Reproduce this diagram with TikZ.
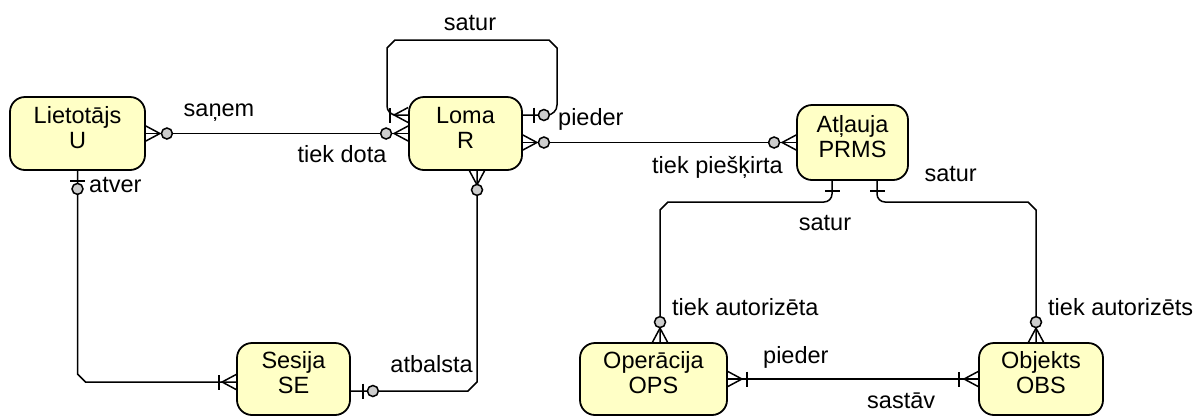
\documentclass[tikz,border=0pt]{standalone}
\usepackage{fontspec}
\setmainfont{Liberation Sans}
\usetikzlibrary{calc}
\definecolor{boxfill}{RGB}{255,255,198}
\definecolor{circfill}{RGB}{205,205,205}
\newcommand\ercrow[2]{\begin{scope}[shift={#1},rotate=#2]\draw[erl] (0,-7.5) -- (14,0) -- (0,7.5);\end{scope}}
\newcommand\erbar[3]{\begin{scope}[shift={#1},rotate=#2]\draw[erl] (#3,-7.5) -- (#3,7.5);\end{scope}}
\newcommand\ercirc[3]{\begin{scope}[shift={#1},rotate=#2]\draw[erl,fill=circfill] (#3,0) circle[radius=5.5];\end{scope}}
\newcommand\etext[2]{\raisebox{3pt}[\height][\depth]{\begin{tabular}{@{}c@{}}#1\\#2\end{tabular}}}
\begin{document}
\begin{tikzpicture}[x=1pt,y=-1pt,
  erl/.style={line width=1.5pt,black},
  ent/.style={draw,line width=1.8pt,fill=boxfill,rounded corners=15pt,inner sep=0pt,
    font=\fontsize{23.5}{25}\selectfont},
  lbl/.style={font=\fontsize{23.5}{25}\selectfont,inner sep=0pt}]
\useasboundingbox (0,0) rectangle (1198,416);
% entities
\node[ent,minimum width=135pt,minimum height=73pt] (lie) at (77.5,133.5) {\etext{Lietotājs}{U}};
\node[ent,minimum width=113pt,minimum height=73pt] (loma) at (465.5,133.5) {\etext{Loma}{R}};
\node[ent,minimum width=111pt,minimum height=75pt] (prms) at (852.5,142.5) {\etext{Atļauja}{PRMS}};
\node[ent,minimum width=113pt,minimum height=72pt] (se) at (293.5,379) {\etext{Sesija}{SE}};
\node[ent,minimum width=147pt,minimum height=72pt] (ops) at (653.5,379) {\etext{Operācija}{OPS}};
\node[ent,minimum width=124pt,minimum height=72pt] (obs) at (1041,379) {\etext{Objekts}{OBS}};
% 1 Lietotajs - Loma
\draw[erl] (lie.east) -- (loma.west);
\ercrow{(lie.east)}{0} \ercirc{(lie.east)}{0}{21}
\ercrow{(loma.west)}{180} \ercirc{(loma.west)}{180}{22}
% 2 Loma self loop
\coordinate (l2s) at ($(loma.west)+(0,-18.5)$);
\coordinate (l2e) at ($(loma.east)+(0,-18.5)$);
\draw[erl] (l2s) -- (396,115) to[out=180,in=-90] (387,106) -- (387,48) -- (395,40) -- (549,40) -- (557,48)
  -- (557,105) to[out=-90,in=0] (547,115) -- (l2e);
\ercrow{(l2s)}{180} \erbar{(l2s)}{180}{18}
\erbar{(l2e)}{0}{11} \ercirc{(l2e)}{0}{21}
% 3 Loma - Atlauja
\draw[erl] (prms.west -| loma.east) -- (prms.west);
\ercrow{(prms.west -| loma.east)}{0} \ercirc{(prms.west -| loma.east)}{0}{21}
\ercrow{(prms.west)}{180} \ercirc{(prms.west)}{180}{22}
% 4 Loma - Sesija
\coordinate (l4s) at ($(loma.south)+(11.5,0)$);
\coordinate (l4e) at ($(se.east)+(0,12)$);
\draw[erl] (l4s) -- (477,382) -- (468,391) -- (l4e);
\ercrow{(l4s)}{-90} \ercirc{(l4s)}{-90}{19}
\erbar{(l4e)}{0}{12} \ercirc{(l4e)}{0}{22}
% 5 Lietotajs - Sesija
\coordinate (l5e) at ($(se.west)+(0,3)$);
\draw[erl] (lie.south) -- (77.5,374) -- (85.5,382) -- (l5e);
\erbar{(lie.south)}{-90}{10} \ercirc{(lie.south)}{-90}{18}
\ercrow{(l5e)}{180} \erbar{(l5e)}{180}{17}
% 6 Atlauja - Operacija
\coordinate (p6s) at ($(prms.south)+(-20.5,0)$);
\coordinate (p6e) at ($(ops.north)+(6.5,0)$);
\draw[erl] (p6s) -- (832,194) to[out=-90,in=0] (824,202) -- (668,202) -- (660,210) -- (p6e);
\erbar{(p6s)}{-90}{10}
\ercrow{(p6e)}{90} \ercirc{(p6e)}{90}{20}
% 7 Atlauja - Objekts
\coordinate (p7s) at ($(prms.south)+(24.5,0)$);
\coordinate (p7e) at ($(obs.north)+(-5,0)$);
\draw[erl] (p7s) -- (877,194) to[out=-90,in=180] (885,202) -- (1028,202) -- (1036,210) -- (p7e);
\erbar{(p7s)}{-90}{10}
\ercrow{(p7e)}{90} \ercirc{(p7e)}{90}{20}
% 8 Operacija - Objekts
\draw[erl] (ops.east) -- (obs.west);
\ercrow{(ops.east)}{0} \erbar{(ops.east)}{0}{19}
\ercrow{(obs.west)}{180} \erbar{(obs.west)}{180}{19}
% labels
\node[lbl,anchor=base] (t1) at (219,116) {saņem};
\node[lbl,anchor=base] (t2) at (342,162) {tiek dota};
\node[lbl,anchor=base west] (t3) at (89,192) {atver};
\node[lbl,anchor=base] (t4) at (470,30) {satur};
\node[lbl,anchor=base west] (t5) at (558,125) {pieder};
\node[lbl,anchor=base east] (t6) at (783,173) {tiek piešķirta};
\node[lbl,anchor=base east] (t7) at (473,372) {atbalsta};
\node[lbl,anchor=base] (t8) at (825,230) {satur};
\node[lbl,anchor=base east] (t9) at (977,181) {satur};
\node[lbl,anchor=base west] (t10) at (672,315) {tiek autorizēta};
\node[lbl,anchor=base west] (t11) at (1048,315) {tiek autorizēts};
\node[lbl,anchor=base west] (t12) at (763,363) {pieder};
\node[lbl,anchor=base west] (t13) at (867,408) {sastāv};
\end{tikzpicture}
\end{document}
